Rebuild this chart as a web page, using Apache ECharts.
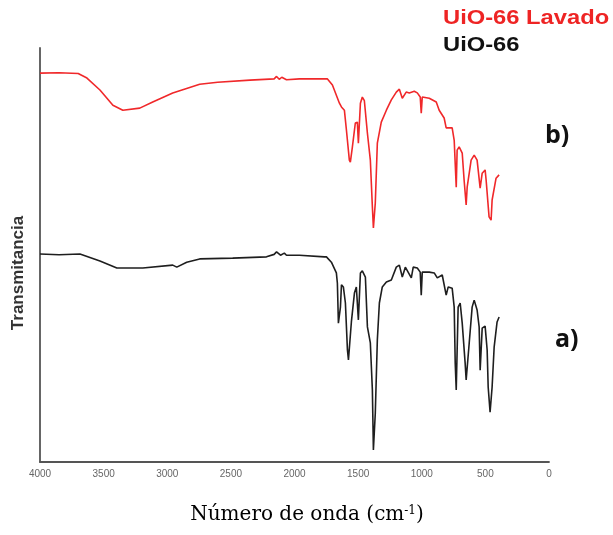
<!DOCTYPE html>
<html>
<head>
<meta charset="utf-8">
<script src="https://cdn.jsdelivr.net/npm/echarts@6/dist/echarts.min.js"></script>
<style>html,body{margin:0;padding:0;background:#fff;}#c{width:613px;height:535px;}</style>
</head>
<body>
<div id="c"></div>
<script>
// Wavenumber ticks (cm-1)
const xTicks = [4000, 3500, 3000, 2500, 2000, 1500, 1000, 500, 0];
const seriesNames = ['UiO-66 Lavado', 'UiO-66'];

// UiO-66 Lavado (red, trace b)
const redWn = [4000, 3850, 3700, 3686, 3631, 3529, 3427, 3349, 3216, 3114, 2957, 2745, 2604, 2350, 2160, 2141, 2120, 2100, 2063, 1961, 1765,
  1741, 1702, 1647, 1631, 1624, 1608, 1592, 1569, 1561, 1545, 1522, 1506, 1498, 1482, 1467, 1451, 1427, 1404, 1388, 1380, 1365, 1349,
  1318, 1278, 1239, 1200, 1176, 1153, 1122, 1098, 1059, 1035, 1012, 1004, 996, 941, 886, 863, 824, 808, 761, 745, 729, 722, 706, 682,
  667, 651, 643, 612, 588, 565, 541, 525, 502, 494, 471, 455, 447, 416, 392];
const redT = [94.4, 94.5, 94.3, 94.2, 93.2, 90.3, 86.6, 85.4, 85.9, 87.4, 89.6, 91.7, 92.2, 92.7, 93.0, 93.6, 92.9, 93.4, 92.8, 93.0, 93.0,
  93.0, 91.5, 87.1, 86.2, 86.6, 85.4, 80.6, 73.3, 72.8, 76.5, 82.3, 82.5, 77.4, 87.1, 88.6, 87.7, 79.8, 73.3, 61.9, 56.8, 62.9, 77.4,
  82.5, 85.4, 87.9, 89.8, 90.5, 88.3, 89.8, 89.6, 90.0, 89.6, 88.6, 84.7, 88.6, 88.3, 87.4, 85.4, 83.5, 81.1, 81.1, 78.1, 66.7, 75.7, 76.5, 75.0,
  68.4, 62.4, 66.7, 73.3, 74.5, 73.3, 66.5, 70.1, 70.9, 68.4, 59.5, 58.7, 63.6, 68.9, 69.7];

// UiO-66 (black, trace a)
const blackWn = [4000, 3850, 3686, 3529, 3396, 3192, 2957, 2925, 2847, 2745, 2486, 2220, 2160, 2141, 2110, 2080, 2063, 1961, 1765,
  1749, 1710, 1671, 1663, 1655, 1639, 1631, 1616, 1600, 1584, 1576, 1553, 1529, 1514, 1498, 1482, 1467, 1443, 1427, 1404, 1388, 1380,
  1365, 1349, 1333, 1310, 1278, 1239, 1200, 1176, 1153, 1129, 1114, 1082, 1067, 1035, 1012, 1004, 996, 941, 902, 878, 863, 839, 808,
  792, 761, 745, 737, 729, 714, 698, 682, 659, 651, 627, 604, 588, 565, 549, 541, 525, 502, 486, 478, 463, 447, 431, 408, 392];
const blackT = [50.5, 50.3, 50.5, 48.8, 47.1, 47.1, 47.8, 47.3, 48.5, 49.3, 49.5, 49.8, 50.4, 51.0, 50.2, 50.7, 50.2, 50.2, 49.8,
  49.8, 48.5, 45.9, 43.4, 33.7, 37.6, 43.0, 42.5, 38.6, 27.2, 24.8, 34.0, 41.0, 42.5, 34.5, 45.9, 46.4, 44.9, 32.8, 28.9, 17.5, 2.9,
  11.9, 29.6, 38.6, 42.5, 43.7, 44.2, 47.3, 47.8, 44.9, 47.3, 47.3, 44.7, 47.3, 47.1, 46.1, 40.5, 46.1, 46.1, 45.9, 44.7, 44.9, 45.4, 40.5,
  42.5, 42.2, 37.6, 24.0, 17.5, 37.6, 38.6, 33.7, 24.0, 19.9, 28.9, 37.6, 39.3, 36.9, 32.8, 22.3, 32.5, 33.0, 27.2, 18.2, 12.1, 18.2, 27.9, 34.0, 35.2];

const zip = (a, b) => a.map((v, i) => [v, b[i]]);

const chart = echarts.init(document.getElementById('c'), null, {renderer: 'canvas'});
chart.setOption({
  backgroundColor: '#fff',
  animation: false,
  grid: {left: 40, right: 64, top: 48, bottom: 73},
  xAxis: {
    type: 'value', inverse: true, min: 0, max: 4000, interval: 500,
    axisLine: {show: true, onZero: false, lineStyle: {color: '#555', width: 1.8}},
    axisTick: {show: false},
    splitLine: {show: false},
    axisLabel: {color: '#666', fontSize: 10, fontFamily: 'Liberation Sans', margin: 7,
      formatter: v => xTicks.includes(v) ? String(v) : ''}
  },
  yAxis: {
    type: 'value', min: 0, max: 100.5, position: 'left',
    axisLine: {show: true, onZero: false, lineStyle: {color: '#555', width: 1.8}},
    axisTick: {show: false}, axisLabel: {show: false}, splitLine: {show: false}
  },
  series: [
    {name: seriesNames[0], type: 'line', data: zip(redWn, redT), showSymbol: false, lineStyle: {color: '#f0282a', width: 1.6}},
    {name: seriesNames[1], type: 'line', data: zip(blackWn, blackT), showSymbol: false, lineStyle: {color: '#1e1e1e', width: 1.6}}
  ],
  graphic: [
    {type: 'text', x: 443, y: 18, scaleX: 1.13, style: {text: seriesNames[0], fill: '#ee2424', font: 'bold 21px "Liberation Sans"', verticalAlign: 'middle'}},
    {type: 'text', x: 443, y: 45, scaleX: 1.13, style: {text: seriesNames[1], fill: '#111', font: 'bold 21px "Liberation Sans"', verticalAlign: 'middle'}},
    {type: 'text', x: 545, y: 136, style: {text: 'b)', fill: '#111', font: 'bold 25px "Open Sans"', verticalAlign: 'middle'}},
    {type: 'text', x: 555, y: 340, style: {text: 'a)', fill: '#111', font: 'bold 25px "Open Sans"', verticalAlign: 'middle'}},
    {type: 'text', x: 18, y: 273, rotation: Math.PI / 2,
      style: {text: 'Transmitancia', fill: '#333', font: 'bold 17px "Liberation Sans"', align: 'center', verticalAlign: 'middle'}},
    {type: 'text', x: 307, y: 515,
      style: {text: '{a|Número de onda (cm}{s|-1}{a|)}', align: 'center', verticalAlign: 'middle',
        rich: {a: {fontFamily: 'DejaVu Serif', fontSize: 20, color: '#222'},
               s: {fontFamily: 'DejaVu Serif', fontSize: 12, color: '#222', verticalAlign: 'top', padding: [0, 0, 9, 0]}}}}
  ]
});
</script>
</body>
</html>
